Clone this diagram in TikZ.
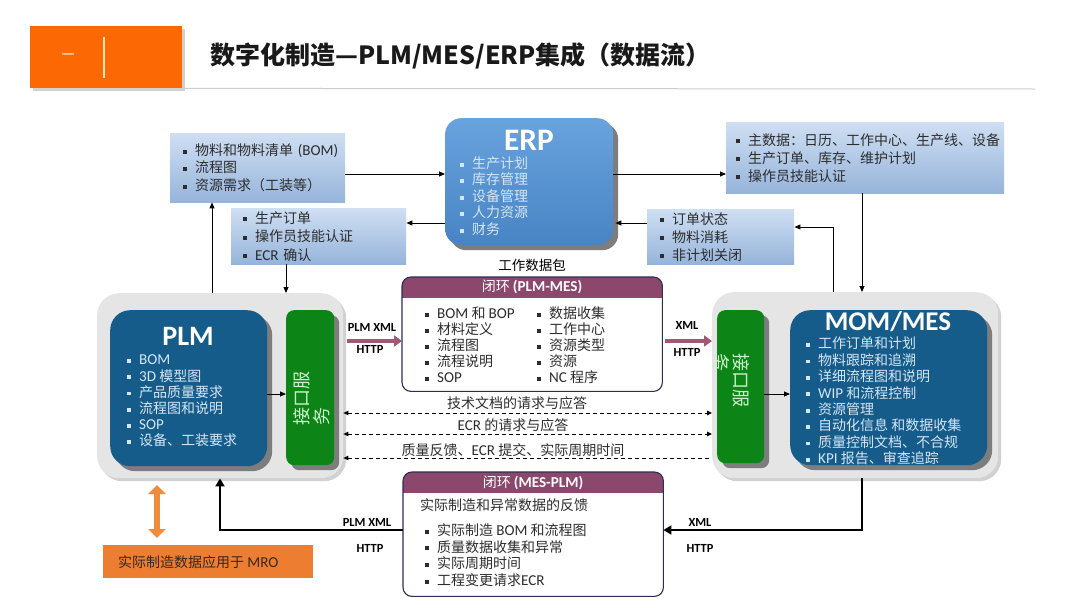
\documentclass[tikz,border=0pt]{standalone}
\usepackage{fontspec}
\setmainfont{Noto Sans CJK SC}
\newfontfamily\lat[Scale=1.08]{Carlito}
\usetikzlibrary{arrows.meta,shadows}
\definecolor{ibT}{RGB}{207,223,243}
\definecolor{ibB}{RGB}{150,180,218}
\definecolor{txtc}{RGB}{45,45,45}
\definecolor{erpT}{RGB}{105,163,222}
\definecolor{erpB}{RGB}{72,132,196}
\definecolor{shd}{RGB}{125,125,125}
\definecolor{plmC}{RGB}{22,92,138}
\definecolor{grnC}{RGB}{12,132,22}
\definecolor{outC}{RGB}{229,229,229}
\definecolor{hdrC}{RGB}{140,72,108}
\definecolor{bordC}{RGB}{45,45,85}
\definecolor{pinkC}{RGB}{160,88,120}
\definecolor{orgC}{RGB}{237,125,49}
\definecolor{orgH}{RGB}{252,104,4}
\definecolor{ltxt}{RGB}{212,230,246}
\newcommand\la[1]{{\lat #1}}
\newcommand\bu{\makebox[12pt][l]{\rule[1.8pt]{3.8pt}{3.8pt}}}
\tikzset{
  ibox/.style={rectangle, top color=ibT, bottom color=ibB, anchor=north west, inner ysep=0pt, align=left, text=txtc},
  bigbox/.style={rectangle, anchor=north west, inner sep=0pt},
  sh/.style={general shadow={fill=shd, shadow xshift=5pt, shadow yshift=-5pt}},
  lsh/.style={general shadow={fill=black!18, shadow xshift=3pt, shadow yshift=-3pt}},
  thinarrow/.style={draw=black, line width=0.9pt, -{Triangle[length=6pt,width=5pt]}},
  pinkarrow/.style={draw=pinkC, line width=3.5pt, -{Triangle[length=8pt,width=11pt]}},
  thickarrow/.style={draw=black, line width=2.8pt, -{Triangle[length=8pt,width=9pt]}},
  dasharrow/.style={draw=black, line width=0.9pt, dash pattern=on 4pt off 3pt},
  proto/.style={font=\lat\bfseries\fontsize{11.5}{12}\selectfont, text=black},
  items/.style={align=left, anchor=west, inner sep=0pt},
  boxtitle/.style={text=white, inner sep=0pt},
}
\begin{document}
\begin{tikzpicture}[x=1pt, y=-1pt]
\useasboundingbox (0,0) rectangle (1080,608);
\fill[white] (0,0) rectangle (1080,608);

% ---- header
\node[bigbox, fill=orgH, minimum width=152pt, minimum height=62pt, lsh] (hdr) at (30,26) {};
\node[text=white, font=\fontsize{13}{13}\selectfont] (hdrone) at (68,57) {一};
\draw[draw={rgb,255:red,255;green,228;blue,180}, line width=1.5pt] (104,37) -- (104,78);
\node[anchor=west, inner sep=0pt, font=\bfseries\fontsize{25}{25}\selectfont, text={rgb,255:red,25;green,25;blue,25}] (title) at (210,56) {数字化制造—PLM/MES/ERP集成（数据流）};
\draw[draw={rgb,255:red,205;green,205;blue,205}, line width=1pt] (hdr.south east) -- (1035,89);

% ---- top info boxes
\node[ibox, minimum width=175pt, minimum height=69pt, text width=149pt, inner xsep=13pt, font=\fontsize{14}{17.5}\selectfont] (b1) at (170,133)
 {\mbox{\bu 物料和物料清单 \la{(BOM)}}\\\bu 流程图\\\bu 资源需求（工装等）};
\node[ibox, minimum width=175pt, minimum height=56pt, text width=151pt, inner xsep=12pt, font=\fontsize{14}{18.5}\selectfont] (b2) at (231,208)
 {\bu 生产订单\\\bu 操作员技能认证\\\bu \la{ECR} 确认};
\node[ibox, minimum width=278pt, minimum height=71pt, text width=258pt, inner xsep=10pt, font=\fontsize{14}{18}\selectfont] (rb1) at (726,122)
 {\mbox{\bu 主数据：日历、工作中心、生产线、设备}\\\bu 生产订单、库存、维护计划\\\bu 操作员技能认证};
\node[ibox, minimum width=147pt, minimum height=55pt, text width=121pt, inner xsep=13pt, font=\fontsize{14}{18}\selectfont] (rb2) at (647,209)
 {\bu 订单状态\\\bu 物料消耗\\\bu 非计划关闭};

% ---- ERP
\node[bigbox, top color=erpT, bottom color=erpB, rounded corners=16pt, minimum width=168pt, minimum height=127pt, sh] (erp) at (445,118) {};
\node[boxtitle, font=\lat\bfseries\fontsize{29}{29}\selectfont] (erpt) at (529,140) {ERP};
\node[items, text=ltxt, font=\fontsize{14}{16.5}\selectfont] (erpi) at (460,196)
 {\bu 生产计划\\\bu 库存管理\\\bu 设备管理\\\bu 人力资源\\\bu 财务};

% ---- PLM group
\node[bigbox, fill=outC, rounded corners=22pt, minimum width=246pt, minimum height=185pt, lsh] (plmO) at (97,293) {};
\node[bigbox, fill=plmC, rounded corners=20pt, minimum width=157pt, minimum height=156pt, sh] (plm) at (110,310) {};
\node[boxtitle, font=\lat\bfseries\fontsize{26}{26}\selectfont] (plmt) at (188,336) {PLM};
\node[items, text=ltxt, font=\fontsize{14}{16.2}\selectfont] (plmi) at (127,401)
 {\bu \la{BOM}\\\bu \la{3D} 模型图\\\bu 产品质量要求\\\bu 流程图和说明\\\bu \la{SOP}\\\bu 设备、工装要求};
\node[bigbox, fill=grnC, rounded corners=8pt, minimum width=48pt, minimum height=155pt, sh] (plmG) at (286,310) {};
\node[rotate=90, align=left, inner sep=0pt, text={rgb,255:red,205;green,240;blue,205}, font=\fontsize{18}{20}\selectfont] (plmGt) at (312,398) {接口服\\务};

% ---- MES group
\node[bigbox, fill=outC, rounded corners=22pt, minimum width=286pt, minimum height=186pt, lsh] (mesO) at (712,292) {};
\node[bigbox, fill=grnC, rounded corners=8pt, minimum width=47pt, minimum height=153pt, sh] (mesG) at (717,310) {};
\node[rotate=-90, align=left, inner sep=0pt, text={rgb,255:red,205;green,240;blue,205}, font=\fontsize{18}{20}\selectfont] (mesGt) at (731,380) {接口服\\务};
\node[bigbox, fill=plmC, rounded corners=20pt, minimum width=197pt, minimum height=155pt, sh] (mom) at (790,310) {};
\node[boxtitle, font=\lat\bfseries\fontsize{25}{25}\selectfont] (momt) at (888,322) {MOM/MES};
\node[items, text=ltxt, font=\fontsize{14}{16.4}\selectfont] (momi) at (806,401)
 {\bu 工作订单和计划\\\bu 物料跟踪和追溯\\\bu 详细流程图和说明\\\bu \la{WIP} 和流程控制\\\bu 资源管理\\\bu 自动化信息 和数据收集\\\bu 质量控制文档、不合规\\\bu \la{KPI} 报告、审查追踪};

% ---- PLM-MES box
\node[bigbox, fill=white, rounded corners=9pt, minimum width=260pt, minimum height=114pt] (pm) at (402,277) {};
\begin{scope}
\clip[rounded corners=9pt] (pm.north west) rectangle (pm.south east);
\fill[hdrC] (pm.north west) rectangle ([yshift=-21pt]pm.north east);
\end{scope}
\draw[bordC, line width=1.1pt, rounded corners=9pt] (pm.north west) rectangle (pm.south east);
\node[text=white, font=\fontsize{14}{14}\selectfont] (pmt) at (532,287) {闭环 \la{\bfseries(PLM-MES)}};
\node[text=black, font=\fontsize{13.5}{14}\selectfont] (wdp) at (532,265) {工作数据包};
\node[items, text=txtc, font=\fontsize{14}{16}\selectfont] (pml) at (425,345)
 {\bu \la{BOM} 和 \la{BOP}\\\bu 材料定义\\\bu 流程图\\\bu 流程说明\\\bu \la{SOP}};
\node[items, text=txtc, font=\fontsize{14}{16}\selectfont] (pmr) at (537,345)
 {\bu 数据收集\\\bu 工作中心\\\bu 资源类型\\\bu 资源\\\bu \la{NC} 程序};

% ---- MES-PLM box
\node[bigbox, fill=white, rounded corners=9pt, minimum width=260pt, minimum height=124pt] (mp) at (403,472) {};
\begin{scope}
\clip[rounded corners=9pt] (mp.north west) rectangle (mp.south east);
\fill[hdrC] (mp.north west) rectangle ([yshift=-21pt]mp.north east);
\end{scope}
\draw[bordC, line width=1.1pt, rounded corners=9pt] (mp.north west) rectangle (mp.south east);
\node[text=white, font=\fontsize{14}{14}\selectfont] (mpt) at (533,483) {闭环 \la{\bfseries(MES-PLM)}};
\node[anchor=west, inner sep=0pt, text=txtc, font=\fontsize{14}{14}\selectfont] (mpsub) at (420,505) {实际制造和异常数据的反馈};
\node[items, text=txtc, font=\fontsize{14}{16.7}\selectfont] (mpi) at (425,555)
 {\bu 实际制造 \la{BOM} 和流程图\\\bu 质量数据收集和异常\\\bu 实际周期时间\\\bu 工程变更请求\la{ECR}};

% ---- MRO box
\node[bigbox, fill=orgC, minimum width=210pt, minimum height=33pt] (mro) at (103,545) {};
\node[anchor=west, inner sep=0pt, text={rgb,255:red,55;green,40;blue,30}, font=\fontsize{14}{14}\selectfont] (mrot) at (118,562) {实际制造数据应用于 \la{MRO}};
\coordinate (oa1) at (157,485);
\coordinate (oa2) at (157,538);
\draw[draw={rgb,255:red,240;green,140;blue,62}, line width=6pt, {Triangle[width=17pt,length=9pt]}-{Triangle[width=17pt,length=9pt]}] (oa1) -- (oa2);

% ---- helper coordinates
\coordinate (y174) at (0,174);
\coordinate (y223) at (0,223);
\coordinate (y227) at (0,227);
\coordinate (y341) at (0,341);
\coordinate (y394) at (0,394);
\coordinate (y413) at (0,413);
\coordinate (y434) at (0,434);
\coordinate (y458) at (0,458);
\coordinate (y530) at (0,530);
\coordinate (x212) at (212,0);
\coordinate (x220) at (220,0);
\coordinate (x286) at (286,0);
\coordinate (x833) at (833,0);
\coordinate (x862) at (862,0);

% ---- thin connectors
\draw[thinarrow] (b1.east |- y174) -- (erp.west |- y174);
\draw[thinarrow] (erp.east |- y174) -- (rb1.west |- y174);
\draw[thinarrow] (erp.west |- y223) -- (b2.east |- y223);
\draw[thinarrow] (rb2.west |- y223) -- ([xshift=2pt]erp.east |- y223);
\draw[thinarrow] (plmO.north -| x212) -- (b1.south -| x212);
\draw[thinarrow] (b2.south -| x286) -- (plmO.north -| x286);
\draw[thinarrow] (rb1.south -| x862) -- (mesO.north -| x862);
\draw[thinarrow] (mesO.north -| x833) |- (rb2.east |- y227);
\draw[thinarrow] (plm.east |- y394) -- (plmG.west |- y394);
\draw[thinarrow] (mesG.east |- y394) -- (mom.west |- y394);

% ---- pink arrows
\draw[pinkarrow] ([xshift=4pt]plmO.east |- y341) -- (pm.west |- y341);
\draw[pinkarrow] ([xshift=3pt]pm.east |- y341) -- (mesO.west |- y341);
\node[proto] (p1) at (372,327) {PLM XML};
\node[proto] (p2) at (370,349) {HTTP};
\node[proto] (p3) at (687,325) {XML};
\node[proto] (p4) at (687,352) {HTTP};

% ---- dashed
\draw[dasharrow, {Triangle[length=5pt,width=4.5pt]}-{Triangle[length=5pt,width=4.5pt]}] (plmO.east |- y413) -- (mesO.west |- y413);
\draw[dasharrow, {Triangle[length=5pt,width=4.5pt]}-{Triangle[length=5pt,width=4.5pt]}] (plmO.east |- y434) -- (mesO.west |- y434);
\draw[dasharrow, {Triangle[length=5pt,width=4.5pt]}-] (plmO.east |- y458) -- (mesO.west |- y458);
\node[text=txtc, font=\fontsize{14}{14}\selectfont] (d1) at (517,403) {技术文档的请求与应答};
\node[text=txtc, font=\fontsize{14}{14}\selectfont] (d2) at (513,425) {\la{ECR} 的请求与应答};
\node[text=txtc, font=\fontsize{14}{14}\selectfont] (d3) at (513,450) {质量反馈、\la{ECR} 提交、实际周期时间};

% ---- bottom thick arrows
\draw[thickarrow] (mp.west |- y530) -| (plmO.south -| x220);
\draw[thickarrow] (mesO.south -| x862) |- (mp.east |- y530);
\node[proto] (p5) at (367,522) {PLM XML};
\node[proto] (p6) at (370,548) {HTTP};
\node[proto] (p7) at (700,522) {XML};
\node[proto] (p8) at (700,548) {HTTP};
\end{tikzpicture}
\end{document}
